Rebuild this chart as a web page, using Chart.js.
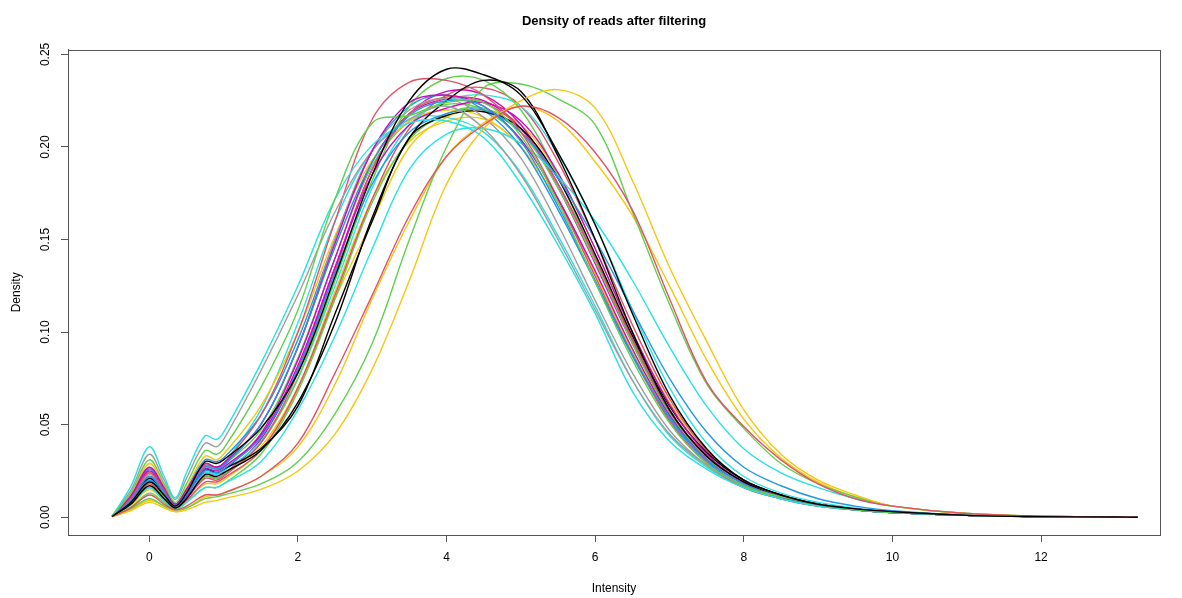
<!DOCTYPE html>
<html>
<head>
<meta charset="utf-8">
<script src="https://cdn.jsdelivr.net/npm/chart.js@4.4.1/dist/chart.umd.min.js"></script>
<style>
  html, body { margin: 0; padding: 0; background: #fff; }
  #wrap { width: 1182px; height: 598px; position: relative; }
</style>
</head>
<body>
<div id="wrap"><canvas id="density"></canvas></div>
<script>
// Intensity grid shared by all density curves
const intensity = [-0.5, -0.25, 0, 0.2, 0.35, 0.5, 0.75, 0.9, 1, 1.5, 2, 2.5, 3, 3.5, 4, 4.5, 5, 5.5, 6, 6.5, 7, 7.5, 8, 8.5, 9, 9.5, 10, 11, 12, 13, 13.3];

// densities, one array per sample
const cyanTop   = [0.0005, 0.0165, 0.038, 0.022, 0.0104, 0.024, 0.044, 0.042, 0.046, 0.083, 0.125, 0.172, 0.201, 0.213, 0.214, 0.205, 0.180, 0.147, 0.110, 0.068, 0.041, 0.026, 0.016, 0.010, 0.006, 0.004, 0.0025, 0.001, 0.0003, 0.0001, 0];
const grayTop   = [0.0005, 0.0145, 0.034, 0.020, 0.0095, 0.021, 0.040, 0.038, 0.042, 0.079, 0.120, 0.165, 0.198, 0.215, 0.222, 0.210, 0.185, 0.150, 0.112, 0.074, 0.045, 0.028, 0.017, 0.011, 0.007, 0.004, 0.0025, 0.001, 0.0003, 0.0001, 0];
const greenEarly= [0.0005, 0.013, 0.031, 0.018, 0.008, 0.018, 0.036, 0.034, 0.037, 0.070, 0.112, 0.172, 0.213, 0.217, 0.224, 0.224, 0.206, 0.170, 0.127, 0.085, 0.051, 0.029, 0.017, 0.011, 0.007, 0.004, 0.0025, 0.001, 0.0003, 0.0001, 0];
const yellowUp  = [0.0005, 0.012, 0.029, 0.017, 0.007, 0.016, 0.033, 0.031, 0.034, 0.060, 0.100, 0.152, 0.193, 0.214, 0.220, 0.216, 0.200, 0.170, 0.132, 0.090, 0.055, 0.031, 0.018, 0.011, 0.007, 0.0045, 0.003, 0.001, 0.0004, 0.0001, 0];
const blackA    = [0.0004, 0.008, 0.019, 0.012, 0.006, 0.013, 0.030, 0.029, 0.031, 0.048, 0.078, 0.130, 0.185, 0.225, 0.242, 0.239, 0.228, 0.197, 0.158, 0.110, 0.066, 0.037, 0.020, 0.012, 0.007, 0.0045, 0.003, 0.001, 0.0003, 0.0001, 0];
const blackB    = [0.0004, 0.007, 0.017, 0.010, 0.005, 0.010, 0.023, 0.022, 0.024, 0.036, 0.062, 0.105, 0.162, 0.205, 0.225, 0.236, 0.230, 0.195, 0.150, 0.100, 0.058, 0.033, 0.019, 0.011, 0.007, 0.004, 0.0025, 0.001, 0.0003, 0.0001, 0];
const blackC    = [0.0004, 0.009, 0.021, 0.012, 0.006, 0.012, 0.026, 0.024, 0.026, 0.037, 0.060, 0.110, 0.160, 0.205, 0.217, 0.219, 0.210, 0.183, 0.142, 0.098, 0.060, 0.035, 0.020, 0.012, 0.007, 0.0045, 0.003, 0.001, 0.0003, 0.0001, 0];
const red1      = [0.0005, 0.010, 0.024, 0.014, 0.006, 0.014, 0.028, 0.027, 0.029, 0.055, 0.100, 0.160, 0.215, 0.235, 0.236, 0.228, 0.208, 0.172, 0.130, 0.088, 0.052, 0.029, 0.016, 0.010, 0.006, 0.004, 0.0025, 0.001, 0.0003, 0.0001, 0];
const magenta1  = [0.0005, 0.0115, 0.027, 0.016, 0.007, 0.015, 0.029, 0.027, 0.029, 0.050, 0.092, 0.148, 0.198, 0.224, 0.228, 0.222, 0.204, 0.172, 0.133, 0.091, 0.055, 0.031, 0.018, 0.011, 0.007, 0.004, 0.0025, 0.001, 0.0003, 0.0001, 0];
const magenta2  = [0.0005, 0.0105, 0.025, 0.014, 0.006, 0.013, 0.026, 0.025, 0.027, 0.044, 0.082, 0.135, 0.185, 0.212, 0.221, 0.224, 0.214, 0.186, 0.145, 0.100, 0.061, 0.034, 0.019, 0.011, 0.007, 0.0045, 0.003, 0.001, 0.0003, 0.0001, 0];
const blue1     = [0.0005, 0.009, 0.022, 0.013, 0.006, 0.013, 0.027, 0.026, 0.028, 0.050, 0.092, 0.146, 0.192, 0.217, 0.225, 0.222, 0.203, 0.168, 0.128, 0.088, 0.054, 0.031, 0.018, 0.011, 0.007, 0.004, 0.0025, 0.001, 0.0003, 0.0001, 0];
const blue2     = [0.0004, 0.0085, 0.020, 0.012, 0.006, 0.012, 0.025, 0.024, 0.026, 0.043, 0.080, 0.132, 0.180, 0.208, 0.218, 0.220, 0.208, 0.183, 0.150, 0.112, 0.075, 0.046, 0.027, 0.017, 0.010, 0.006, 0.0035, 0.0012, 0.0004, 0.0001, 0];
const green2    = [0.0004, 0.0075, 0.018, 0.011, 0.005, 0.010, 0.022, 0.021, 0.023, 0.040, 0.075, 0.128, 0.182, 0.222, 0.237, 0.236, 0.220, 0.184, 0.140, 0.094, 0.056, 0.032, 0.018, 0.011, 0.007, 0.004, 0.0025, 0.001, 0.0003, 0.0001, 0];
const cyan3     = [0.0004, 0.0085, 0.020, 0.012, 0.006, 0.012, 0.024, 0.023, 0.025, 0.041, 0.075, 0.125, 0.178, 0.212, 0.225, 0.228, 0.222, 0.196, 0.158, 0.112, 0.070, 0.040, 0.022, 0.013, 0.008, 0.005, 0.003, 0.001, 0.0004, 0.0001, 0];
const cyanLate  = [0.0004, 0.007, 0.016, 0.009, 0.005, 0.008, 0.016, 0.016, 0.018, 0.030, 0.058, 0.098, 0.145, 0.188, 0.207, 0.210, 0.202, 0.184, 0.160, 0.128, 0.092, 0.060, 0.037, 0.024, 0.016, 0.010, 0.006, 0.002, 0.0006, 0.0002, 0];
const red2      = [0.0004, 0.0075, 0.018, 0.010, 0.005, 0.010, 0.021, 0.020, 0.022, 0.040, 0.078, 0.133, 0.188, 0.218, 0.227, 0.224, 0.210, 0.180, 0.140, 0.096, 0.058, 0.033, 0.019, 0.011, 0.007, 0.004, 0.0025, 0.001, 0.0003, 0.0001, 0];
const yellowMid = [0.0004, 0.0065, 0.015, 0.009, 0.005, 0.009, 0.018, 0.018, 0.020, 0.036, 0.070, 0.122, 0.172, 0.203, 0.214, 0.215, 0.200, 0.170, 0.132, 0.090, 0.055, 0.031, 0.018, 0.011, 0.007, 0.0045, 0.003, 0.001, 0.0004, 0.0001, 0];
const gray2     = [0.0005, 0.010, 0.023, 0.013, 0.006, 0.013, 0.027, 0.026, 0.028, 0.050, 0.092, 0.150, 0.198, 0.220, 0.226, 0.216, 0.194, 0.158, 0.117, 0.078, 0.047, 0.028, 0.016, 0.010, 0.006, 0.004, 0.0025, 0.001, 0.0003, 0.0001, 0];
const magenta3  = [0.0004, 0.0085, 0.020, 0.012, 0.006, 0.011, 0.022, 0.021, 0.023, 0.042, 0.080, 0.135, 0.188, 0.218, 0.230, 0.228, 0.212, 0.180, 0.140, 0.096, 0.058, 0.033, 0.019, 0.011, 0.007, 0.004, 0.0025, 0.001, 0.0003, 0.0001, 0];
const green3    = [0.0003, 0.0055, 0.013, 0.008, 0.004, 0.008, 0.016, 0.016, 0.018, 0.034, 0.068, 0.118, 0.170, 0.204, 0.218, 0.221, 0.208, 0.178, 0.138, 0.095, 0.058, 0.033, 0.019, 0.011, 0.007, 0.004, 0.0025, 0.001, 0.0003, 0.0001, 0];
const redLate   = [0.0003, 0.005, 0.012, 0.007, 0.004, 0.006, 0.012, 0.012, 0.013, 0.022, 0.040, 0.078, 0.120, 0.163, 0.195, 0.212, 0.222, 0.216, 0.197, 0.166, 0.118, 0.073, 0.049, 0.031, 0.018, 0.010, 0.006, 0.002, 0.0006, 0.0002, 0];
const yellowLateA = [0.0003, 0.004, 0.009, 0.006, 0.003, 0.005, 0.011, 0.012, 0.013, 0.022, 0.038, 0.072, 0.118, 0.160, 0.195, 0.213, 0.222, 0.214, 0.192, 0.163, 0.125, 0.085, 0.053, 0.032, 0.019, 0.011, 0.006, 0.002, 0.0006, 0.0002, 0];
const greenLate = [0.0003, 0.0045, 0.010, 0.006, 0.004, 0.005, 0.010, 0.011, 0.012, 0.018, 0.030, 0.056, 0.094, 0.150, 0.200, 0.232, 0.234, 0.226, 0.212, 0.165, 0.115, 0.072, 0.048, 0.029, 0.018, 0.011, 0.006, 0.002, 0.0006, 0.0002, 0];
const yellowLateB = [0.0003, 0.0035, 0.008, 0.005, 0.003, 0.004, 0.008, 0.009, 0.010, 0.015, 0.025, 0.045, 0.080, 0.128, 0.180, 0.210, 0.225, 0.231, 0.221, 0.182, 0.135, 0.095, 0.058, 0.034, 0.020, 0.012, 0.006, 0.002, 0.0006, 0.0002, 0];
const cyan4     = [0.0005, 0.011, 0.026, 0.015, 0.007, 0.014, 0.028, 0.027, 0.029, 0.058, 0.105, 0.160, 0.198, 0.215, 0.216, 0.208, 0.186, 0.152, 0.114, 0.074, 0.044, 0.027, 0.016, 0.010, 0.006, 0.004, 0.0025, 0.001, 0.0003, 0.0001, 0];
const blue3     = [0.0005, 0.011, 0.026, 0.015, 0.007, 0.015, 0.031, 0.030, 0.032, 0.055, 0.096, 0.150, 0.198, 0.222, 0.228, 0.220, 0.200, 0.166, 0.127, 0.087, 0.053, 0.030, 0.017, 0.010, 0.006, 0.004, 0.0025, 0.001, 0.0003, 0.0001, 0];
const red3      = [0.0004, 0.007, 0.016, 0.009, 0.005, 0.009, 0.019, 0.019, 0.021, 0.036, 0.070, 0.120, 0.172, 0.210, 0.228, 0.232, 0.222, 0.192, 0.150, 0.104, 0.064, 0.036, 0.020, 0.012, 0.007, 0.0045, 0.003, 0.001, 0.0004, 0.0001, 0];
const magenta4  = [0.0005, 0.0095, 0.022, 0.013, 0.006, 0.012, 0.024, 0.023, 0.025, 0.045, 0.085, 0.140, 0.192, 0.218, 0.226, 0.225, 0.210, 0.178, 0.137, 0.094, 0.057, 0.032, 0.018, 0.011, 0.007, 0.004, 0.0025, 0.001, 0.0003, 0.0001, 0];
const yellow2   = [0.0004, 0.008, 0.019, 0.011, 0.005, 0.011, 0.022, 0.021, 0.023, 0.038, 0.070, 0.118, 0.160, 0.200, 0.216, 0.220, 0.212, 0.185, 0.145, 0.100, 0.062, 0.036, 0.020, 0.012, 0.007, 0.0045, 0.003, 0.001, 0.0004, 0.0001, 0];
const green4    = [0.0005, 0.010, 0.024, 0.014, 0.007, 0.014, 0.028, 0.026, 0.028, 0.047, 0.086, 0.140, 0.190, 0.214, 0.223, 0.220, 0.204, 0.172, 0.132, 0.090, 0.055, 0.031, 0.018, 0.011, 0.007, 0.004, 0.0025, 0.001, 0.0003, 0.0001, 0];

const xTicks = [0, 2, 4, 6, 8, 10, 12];
const yTicks = [0, 0.05, 0.10, 0.15, 0.20, 0.25];

// R default palette
const PAL = { black: '#000000', red: '#DF536B', green: '#61D04F', blue: '#2297E6', cyan: '#28E2E5', magenta: '#CD0BBC', yellow: '#F5C710', gray: '#9E9E9E' };

const samples = [
  [blackA, 'black'], [redLate, 'red'], [greenEarly, 'green'], [blue1, 'blue'], [cyanTop, 'cyan'], [magenta1, 'magenta'], [yellowLateB, 'yellow'], [grayTop, 'gray'],
  [blackB, 'black'], [red1, 'red'], [greenLate, 'green'], [blue2, 'blue'], [cyanLate, 'cyan'], [magenta2, 'magenta'], [yellowLateA, 'yellow'], [gray2, 'gray'],
  [blackC, 'black'], [red2, 'red'], [green2, 'green'], [blue3, 'blue'], [cyan3, 'cyan'], [magenta3, 'magenta'], [yellowUp, 'yellow'],
  [red3, 'red'], [green3, 'green'], [cyan4, 'cyan'], [magenta4, 'magenta'], [yellowMid, 'yellow'], [green4, 'green'], [yellow2, 'yellow'],
];

const AXIS = '#555555';
const FONT = "'Liberation Sans', Arial, sans-serif";

// full box around the plot region, like R's bty="o"
const boxPlugin = {
  id: 'box',
  afterDraw(chart) {
    const { ctx, chartArea: a } = chart;
    ctx.save();
    ctx.strokeStyle = AXIS;
    ctx.lineWidth = 1;
    ctx.strokeRect(Math.round(a.left) + 0.5, Math.round(a.top) + 0.5, Math.round(a.right - a.left), Math.round(a.bottom - a.top));
    ctx.restore();
  }
};

new Chart(document.getElementById('density'), {
  type: 'line',
  data: {
    datasets: samples.map(([vals, col], i) => ({
      label: 'sample ' + (i + 1),
      data: intensity.map((x, k) => ({ x, y: vals[k] })),
      borderColor: PAL[col],
      borderWidth: 1.4,
      pointRadius: 0,
      tension: 0.35,
      fill: false,
    })),
  },
  options: {
    responsive: true, maintainAspectRatio: false, animation: false,
    layout: { padding: { left: 0, right: 22, top: 0, bottom: 0 } },
    plugins: {
      legend: { display: false },
      tooltip: { enabled: false },
      title: {
        display: true, text: 'Density of reads after filtering', color: '#000', fullSize: false,
        font: { family: FONT, size: 13, weight: 'bold' }, padding: { top: 14, bottom: 20 },
      },
    },
    scales: {
      x: {
        type: 'linear', min: -1.094, max: 13.6,
        afterBuildTicks: s => { s.ticks = xTicks.map(v => ({ value: v })); },
        afterFit: s => { s.height = 63; },
        grid: { drawOnChartArea: false, drawTicks: true, tickLength: 7, color: AXIS },
        border: { display: true, color: AXIS },
        ticks: { color: '#000', font: { family: FONT, size: 12 }, padding: 8, maxRotation: 0, callback: v => String(v) },
        title: { display: true, text: 'Intensity', color: '#000', font: { family: FONT, size: 12 }, padding: { top: 4, bottom: 2 } },
      },
      y: {
        type: 'linear', min: -0.0096, max: 0.2526,
        afterBuildTicks: s => { s.ticks = yTicks.map(v => ({ value: v })); },
        afterFit: s => { s.width = 68; },
        grid: { drawOnChartArea: false, drawTicks: true, tickLength: 7, color: AXIS },
        border: { display: true, color: AXIS },
        ticks: { color: '#000', font: { family: FONT, size: 12 }, padding: 4, minRotation: 90, maxRotation: 90, crossAlign: 'center', callback: v => v.toFixed(2) },
        title: { display: true, text: 'Density', color: '#000', font: { family: FONT, size: 12 }, padding: { top: 9, bottom: 4 } },
      },
    },
  },
  plugins: [boxPlugin],
});
</script>
</body>
</html>
